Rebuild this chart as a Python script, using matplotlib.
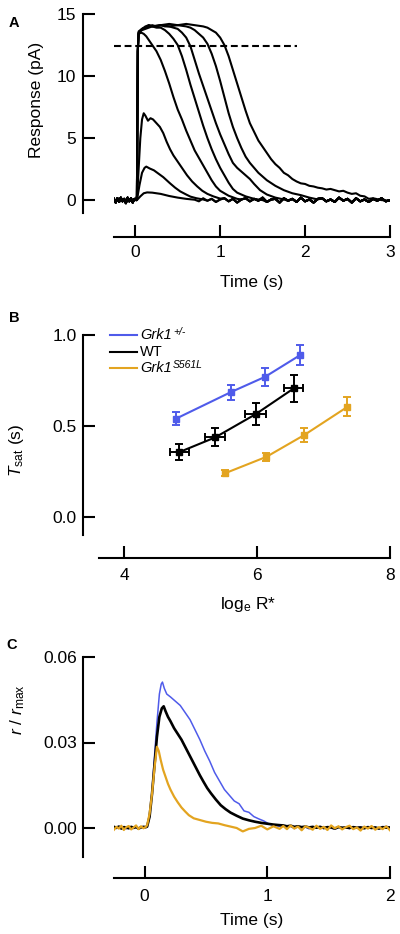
import numpy as np
import matplotlib
matplotlib.use("Agg")
import matplotlib.pyplot as plt
from matplotlib.lines import Line2D

plt.rcParams['font.family'] = ['Liberation Sans', 'DejaVu Sans']
plt.rcParams['mathtext.fontset'] = 'custom'
plt.rcParams['mathtext.rm'] = 'Liberation Sans'
plt.rcParams['mathtext.it'] = 'Liberation Sans:italic'

# ---------------- Panel A data (Response, pA vs Time, s) ----------------
pre_t = [-0.25, -0.23, -0.21, -0.19, -0.17, -0.15, -0.13, -0.11, -0.09, -0.07, -0.05, -0.03, -0.01, 0.01]
pre_v = [0.1, -0.2, 0.15, -0.15, 0.2, -0.1, 0.1, -0.25, 0.2, -0.1, 0.15, -0.2, 0.1, 0.0]

tail_t = np.round(np.arange(0.7, 3.0001, 0.05), 3)
tail_v = [0.1, -0.1, 0.15, -0.05, 0.1, -0.15, 0.05, 0.15, -0.1, 0.1, -0.2, 0.05, 0.15, -0.1,
          0.1, -0.05, 0.2, -0.15, 0.05, 0.1, -0.2, 0.15, -0.05, 0.1, -0.15, 0.2, -0.1, 0.05,
          -0.2, 0.1, 0.15, -0.1, 0.05, -0.15, 0.2, -0.05, 0.1, -0.2, 0.15, -0.1, 0.05, -0.15,
          0.1, -0.05, 0.15, -0.1, 0.0]

a1_t = [0.02, 0.06, 0.1, 0.14, 0.2, 0.3, 0.4, 0.5, 0.6, 0.7]
a1_v = [0.0, 0.3, 0.55, 0.62, 0.6, 0.5, 0.33, 0.2, 0.1, 0.03]
a2_t = [0.02, 0.05, 0.08, 0.11, 0.13, 0.17, 0.22, 0.27, 0.33, 0.41, 0.47, 0.53, 0.6, 0.65, 0.72, 0.8]
a2_v = [0.0, 1.2, 2.2, 2.6, 2.7, 2.55, 2.4, 2.15, 1.85, 1.35, 1.0, 0.7, 0.45, 0.28, 0.15, 0.05]
a3_t = [0.02, 0.04, 0.06, 0.08, 0.1, 0.12, 0.15, 0.18, 0.21, 0.25, 0.29, 0.33, 0.37, 0.41, 0.45,
        0.49, 0.55, 0.61, 0.67, 0.73, 0.79, 0.85, 0.92, 1.0]
a3_v = [0.0, 2.5, 5.0, 6.5, 7.0, 6.8, 6.4, 6.6, 6.5, 6.2, 5.9, 5.4, 4.7, 4.1, 3.6,
        3.2, 2.6, 2.0, 1.5, 1.1, 0.75, 0.5, 0.3, 0.12]
a4_t = [0.02, 0.03, 0.04, 0.07, 0.1, 0.13, 0.16, 0.2, 0.25, 0.3, 0.35, 0.4, 0.45, 0.5, 0.55,
        0.6, 0.65, 0.7, 0.75, 0.8, 0.85, 0.9, 0.95, 1.0, 1.1, 1.2]
a4_v = [0.3, 12.0, 13.4, 13.5, 13.4, 13.2, 12.9, 12.5, 12.0, 11.3, 10.4, 9.4, 8.3, 7.3, 6.5,
        5.6, 4.8, 4.0, 3.4, 2.8, 2.2, 1.6, 1.1, 0.75, 0.35, 0.1]
a5_t = [0.02, 0.03, 0.04, 0.08, 0.12, 0.16, 0.2, 0.25, 0.3, 0.35, 0.4, 0.45, 0.5, 0.55, 0.6,
        0.65, 0.7, 0.75, 0.8, 0.85, 0.9, 0.95, 1.0, 1.05, 1.1, 1.15, 1.2, 1.3, 1.4, 1.5]
a5_v = [0.3, 12.0, 13.5, 13.7, 13.8, 13.9, 14.0, 13.9, 13.9, 13.7, 13.4, 13.0, 12.5, 11.6, 10.5,
        9.3, 8.2, 7.1, 6.0, 5.0, 4.1, 3.3, 2.6, 2.0, 1.4, 0.9, 0.6, 0.3, 0.1, 0.0]
a6_t = [0.02, 0.03, 0.04, 0.08, 0.12, 0.16, 0.2, 0.25, 0.3, 0.35, 0.4, 0.45, 0.5, 0.55, 0.6,
        0.65, 0.7, 0.75, 0.8, 0.85, 0.9, 0.95, 1.0, 1.05, 1.1, 1.15, 1.2, 1.25, 1.3, 1.35,
        1.4, 1.47, 1.55, 1.65, 1.75]
a6_v = [0.3, 12.0, 13.6, 13.8, 13.9, 14.0, 14.1, 14.0, 14.1, 14.0, 14.0, 13.9, 13.8, 13.5, 13.1,
        12.4, 11.3, 10.2, 9.2, 8.2, 7.2, 6.2, 5.3, 4.5, 3.7, 3.0, 2.6, 2.3, 2.0, 1.7,
        1.3, 0.8, 0.45, 0.2, 0.05]
a7_t = [0.02, 0.03, 0.04, 0.08, 0.12, 0.16, 0.2, 0.3, 0.4, 0.5, 0.6, 0.65, 0.7, 0.75, 0.8,
        0.85, 0.9, 0.95, 1.0, 1.05, 1.1, 1.15, 1.2, 1.25, 1.3, 1.35, 1.4, 1.45, 1.5, 1.55,
        1.65, 1.75, 1.85, 1.95, 2.05, 2.15]
a7_v = [0.3, 12.0, 13.5, 13.8, 14.0, 14.1, 14.0, 14.1, 14.0, 14.1, 14.0, 13.9, 13.7, 13.4, 13.1,
        12.6, 11.8, 10.8, 9.6, 8.3, 7.0, 5.9, 5.0, 4.2, 3.5, 3.0, 2.6, 2.2, 1.9, 1.6,
        1.15, 0.8, 0.55, 0.4, 0.2, 0.05]
a8_t = [0.02, 0.03, 0.04, 0.08, 0.12, 0.16, 0.2, 0.3, 0.4, 0.5, 0.6, 0.7, 0.8, 0.85, 0.9,
        0.95, 1.0, 1.05, 1.1, 1.15, 1.2, 1.25, 1.3, 1.35, 1.4, 1.45, 1.5, 1.55, 1.6, 1.65,
        1.7, 1.75, 1.8, 1.85, 1.9, 1.95, 2.0, 2.05, 2.1, 2.15, 2.2, 2.25, 2.3, 2.35, 2.4,
        2.45, 2.5, 2.55, 2.6, 2.65, 2.7, 2.75, 2.8, 2.9, 3.0]
a8_v = [0.3, 12.0, 13.4, 13.8, 13.9, 14.1, 14.0, 14.1, 14.2, 14.1, 14.2, 14.1, 14.0, 13.9, 13.7,
        13.5, 13.1, 12.5, 11.6, 10.5, 9.4, 8.3, 7.2, 6.2, 5.5, 4.8, 4.3, 3.8, 3.3, 2.9,
        2.6, 2.2, 2.0, 1.7, 1.5, 1.35, 1.3, 1.15, 1.1, 1.0, 0.95, 0.85, 0.9, 0.8, 0.7,
        0.75, 0.6, 0.5, 0.55, 0.35, 0.3, 0.1, 0.15, 0.0, -0.05]
traces_A = [(a1_t, a1_v), (a2_t, a2_v), (a3_t, a3_v), (a4_t, a4_v),
            (a5_t, a5_v), (a6_t, a6_v), (a7_t, a7_v), (a8_t, a8_v)]
dash_level = 12.4
dash_span = [-0.25, 1.9]
A_xticks = [0, 1, 2, 3]
A_yticks = [0, 5, 10, 15]

# ---------------- Panel B data (Tsat vs loge R*) ----------------
B_names = ['Grk1', 'WT', 'Grk1']
B_supers = ['+/-', '', 'S561L']
B_italic = [True, False, True]
B_colors = ['#4f5bea', '#000000', '#e3a420']
het_x = [4.78, 5.60, 6.12, 6.65]
het_y = [0.54, 0.685, 0.77, 0.89]
het_yerr = [0.035, 0.04, 0.05, 0.057]
wt_x = [4.83, 5.37, 5.98, 6.55]
wt_y = [0.356, 0.437, 0.565, 0.706]
wt_yerr = [0.044, 0.05, 0.061, 0.073]
wt_xerr = [0.146, 0.15, 0.16, 0.14]
mut_x = [5.52, 6.14, 6.71, 7.36]
mut_y = [0.24, 0.33, 0.45, 0.605]
mut_yerr = [0.015, 0.023, 0.04, 0.053]
B_xticks = [4, 6, 8]
B_yticks = [0.0, 0.5, 1.0]

# ---------------- Panel C data (r / rmax vs Time) ----------------
c_pre_t = [-0.25, -0.23, -0.21, -0.19, -0.17, -0.15, -0.13, -0.11, -0.09, -0.07, -0.05, -0.03, -0.01, 0.01]
blue_pre = [0.0003, -0.0002, 0.0004, 0.0, 0.0003, -0.0003, 0.0002, 0.0004, -0.0002, 0.0003, 0.0, 0.0004, -0.0001, 0.0002]
black_pre = [0.0004, 0.0001, 0.0005, -0.0002, 0.0003, 0.0002, -0.0001, 0.0004, 0.0001, 0.0003, -0.0002, 0.0002, 0.0004, 0.0003]
orange_pre = [-0.0006, 0.0004, -0.0002, 0.0008, -0.0007, 0.0003, 0.0007, -0.0005, 0.0002, 0.0009, -0.0004, 0.0006, -0.0001, 0.0004]

blue_t = [0.02, 0.04, 0.06, 0.08, 0.1, 0.12, 0.135, 0.145, 0.16, 0.18, 0.21, 0.25, 0.29, 0.33, 0.37,
          0.41, 0.45, 0.49, 0.53, 0.57, 0.61, 0.65, 0.69, 0.73, 0.77, 0.81, 0.85, 0.89, 0.93, 0.97,
          1.01, 1.05, 1.1]
blue_v = [0.0005, 0.004, 0.013, 0.025, 0.037, 0.047, 0.0505, 0.0512, 0.049, 0.047, 0.046, 0.0445, 0.043, 0.0405, 0.038,
          0.0345, 0.031, 0.027, 0.0235, 0.0195, 0.0165, 0.0135, 0.0115, 0.0095, 0.0085, 0.006, 0.0055, 0.004, 0.0032, 0.0025,
          0.0015, 0.001, 0.0006]
black_t = [0.02, 0.04, 0.06, 0.08, 0.1, 0.12, 0.14, 0.155, 0.17, 0.19, 0.21, 0.24, 0.27, 0.3, 0.33,
           0.36, 0.39, 0.42, 0.45, 0.48, 0.51, 0.54, 0.58, 0.62, 0.66, 0.7, 0.75, 0.8, 0.85, 0.9,
           0.95, 1.0, 1.05, 1.1]
black_v = [0.0005, 0.004, 0.012, 0.022, 0.032, 0.039, 0.042, 0.0427, 0.041, 0.039, 0.0375, 0.035, 0.033, 0.031, 0.0285,
           0.026, 0.0235, 0.021, 0.0185, 0.0162, 0.014, 0.0122, 0.01, 0.008, 0.0066, 0.0054, 0.0043, 0.0033, 0.0027, 0.0022,
           0.0018, 0.0015, 0.0012, 0.001]
orange_t = [0.02, 0.04, 0.06, 0.08, 0.1, 0.115, 0.13, 0.15, 0.17, 0.19, 0.21, 0.24, 0.27, 0.3, 0.33,
            0.36, 0.4, 0.45, 0.5, 0.55, 0.6, 0.65, 0.7, 0.75, 0.8, 0.85, 0.9, 0.95, 1.0, 1.05, 1.1]
orange_v = [0.001, 0.005, 0.012, 0.021, 0.0285, 0.027, 0.024, 0.0205, 0.018, 0.0155, 0.0135, 0.011, 0.009, 0.0072, 0.0058,
            0.0045, 0.0034, 0.0028, 0.0022, 0.0018, 0.0016, 0.001, 0.0005, 0.0, -0.0012, -0.0003, 0.0, 0.0008, -0.0005, 0.0006, -0.0003]

c_tail_t = np.round(np.arange(1.13, 2.0001, 0.03), 3)
blue_tail = [0.0008, 0.0002, 0.0006, -0.0002, 0.0005, 0.0001, 0.0004, -0.0003, 0.0003, 0.0, 0.0005, -0.0002, 0.0004, 0.0001, -0.0004,
             0.0003, 0.0, 0.0002, -0.0002, 0.0004, 0.0001, 0.0003, -0.0001, 0.0005, 0.0, 0.0002, -0.0003, 0.0004, 0.0006, 0.0002]
black_tail = [0.0009, 0.0006, 0.0008, 0.0004, 0.0006, 0.0003, 0.0005, 0.0002, 0.0004, 0.0001, 0.0004, 0.0, 0.0003, 0.0002, -0.0002,
              0.0003, 0.0001, 0.0002, 0.0, 0.0003, 0.0001, 0.0002, -0.0001, 0.0003, 0.0, 0.0002, -0.0002, 0.0003, 0.0001, 0.0002]
orange_tail = [0.0007, -0.0004, 0.0009, -0.0002, 0.0005, -0.0008, 0.0006, 0.0001, -0.0006, 0.0008, -0.0003, 0.0004, -0.0007, 0.0009, -0.0001,
               0.0006, -0.0005, 0.0003, 0.0008, -0.0004, 0.0002, -0.0009, 0.0005, -0.0002, 0.0007, -0.0006, 0.0003, -0.0004, 0.0006, -0.0008]
C_xticks = [0, 1, 2]
C_yticks = [0.00, 0.03, 0.06]

# ---------------- Figure ----------------
W, H = 400, 934
fig = plt.figure(figsize=(4, 9.34), dpi=100)
renderer = fig.canvas.get_renderer()


def px_axes(x0, x1, ytop, ybot):
    return fig.add_axes([x0 / W, 1 - ybot / H, (x1 - x0) / W, (ybot - ytop) / H])


def style(ax, xlim, ylim, xticks, yticks, left_out, bottom_out, xpad, ypad, xfmt, yfmt):
    ax.set_xlim(*xlim)
    ax.set_ylim(*ylim)
    ax.patch.set_visible(False)
    for s in ['top', 'right']:
        ax.spines[s].set_visible(False)
    ax.spines['left'].set_position(('outward', left_out * 0.72))
    ax.spines['bottom'].set_position(('outward', bottom_out * 0.72))
    ax.spines['left'].set_bounds(*ylim)
    ax.spines['bottom'].set_bounds(*xlim)
    for s in ['left', 'bottom']:
        ax.spines[s].set_linewidth(1.5)
    ax.set_xticks(xticks)
    ax.set_yticks(yticks)
    ax.set_xticklabels([xfmt.format(v) for v in xticks])
    ax.set_yticklabels([yfmt.format(v) for v in yticks])
    ax.tick_params(direction='in', length=8.5, width=1.5, labelsize=12.5, colors='black')
    ax.tick_params(axis='x', pad=xpad)
    ax.tick_params(axis='y', pad=ypad)


def ftext(x, y, s, **kw):
    return fig.text(x / W, 1 - y / H, s, **kw)


# Panel A
axA = px_axes(114, 390, 14, 212.5)
style(axA, (-0.25, 3), (-1, 15), A_xticks, A_yticks, 31, 24.5, 5.5, 5, '{:d}', '{:d}')
for t, v in traces_A:
    last = t[-1]
    tt = list(pre_t) + list(t) + [x for x in tail_t if x > last]
    vv = list(pre_v) + list(v) + [y for x, y in zip(tail_t, tail_v) if x > last]
    axA.plot(tt, vv, color='black', lw=1.5, solid_joinstyle='round')
axA.hlines(dash_level, dash_span[0], dash_span[1], colors='black', lw=1.5,
           linestyles=(0, (3.3, 1.8)))
ftext(37, 100, 'Response (pA)', rotation=90, ha='center', va='center', fontsize=12.5)
ftext(252, 282, 'Time (s)', ha='center', va='center', fontsize=12.5)
ftext(14, 23, 'A', ha='center', va='center', fontsize=10.5, fontweight='bold')

# Panel B
axB = px_axes(99, 390, 335, 535)
style(axB, (3.62, 8), (-0.1, 1.0), B_xticks, B_yticks, 16, 23, 7, 4.5, '{:d}', '{:.1f}')
series_B = [(het_x, het_y, None, het_yerr), (wt_x, wt_y, wt_xerr, wt_yerr), (mut_x, mut_y, None, mut_yerr)]
for (xs, ys, xe, ye), col in zip(series_B, B_colors):
    axB.plot(xs, ys, color=col, lw=1.5)
    axB.errorbar(xs, ys, yerr=ye, xerr=xe, fmt='s', color=col, ms=5,
                 elinewidth=1.4, capsize=2.8, capthick=1.4)
ftext(17, 450, r'$T_{\mathrm{sat}}$ (s)', rotation=90, ha='center', va='center', fontsize=12.5)
ftext(248, 605, r'log$_{\mathrm{e}}$ R*', ha='center', va='center', fontsize=12.5)
ftext(14, 318, 'B', ha='center', va='center', fontsize=10.5, fontweight='bold')
for i, (name, sup, ital, col) in enumerate(zip(B_names, B_supers, B_italic, B_colors)):
    yy = 335 + i * 16.5
    fig.add_artist(Line2D([110 / W, 137 / W], [1 - yy / H, 1 - yy / H], color=col, lw=1.5))
    t_main = ftext(140, yy, name, ha='left', va='center', fontsize=10.5,
                   style='italic' if ital else 'normal')
    if sup:
        bb = t_main.get_window_extent(renderer=renderer)
        fig.text(bb.x1 / W + 0.003, 1 - (yy - 3) / H, sup, ha='left', va='center',
                 fontsize=7.5, style='italic')

# Panel C
axC = px_axes(114, 390, 657, 856.5)
style(axC, (-0.25, 2), (-0.01, 0.06), C_xticks, C_yticks, 31, 21.5, 8, 4.5, '{:d}', '{:.2f}')
for t, v, pre, tail, col, lw in [(blue_t, blue_v, blue_pre, blue_tail, B_colors[0], 1.1),
                                 (black_t, black_v, black_pre, black_tail, B_colors[1], 1.9),
                                 (orange_t, orange_v, orange_pre, orange_tail, B_colors[2], 1.6)]:
    tt = list(c_pre_t) + list(t) + list(c_tail_t)
    vv = list(pre) + list(v) + list(tail)
    axC.plot(tt, vv, color=col, lw=lw)
ftext(18, 710, r'$r$ / $r_{\mathrm{max}}$', rotation=90, ha='center', va='center', fontsize=12.5)
ftext(252, 920, 'Time (s)', ha='center', va='center', fontsize=12.5)
ftext(12, 645, 'C', ha='center', va='center', fontsize=10.5, fontweight='bold')

fig.savefig('out.png', dpi=100)
